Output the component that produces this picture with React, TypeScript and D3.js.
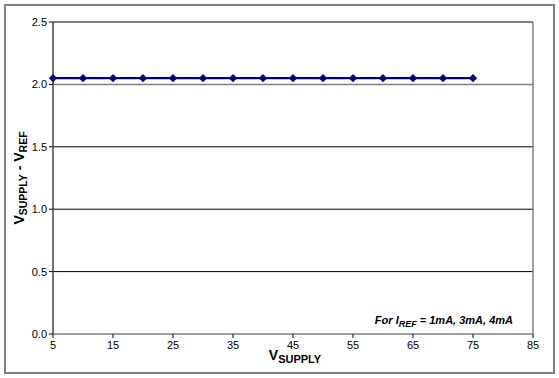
import React from "react";
import * as d3 from "d3";

const xValues = [5, 10, 15, 20, 25, 30, 35, 40, 45, 50, 55, 60, 65, 70, 75];
const yValues = [2.05, 2.05, 2.05, 2.05, 2.05, 2.05, 2.05, 2.05, 2.05, 2.05, 2.05, 2.05, 2.05, 2.05, 2.05];
const xTicks = [5, 15, 25, 35, 45, 55, 65, 75, 85];
const yTicks = [0, 0.5, 1.0, 1.5, 2.0, 2.5];

export default function App() {
  const W = 559, H = 378;
  const left = 53, right = 533, top = 22, bottom = 334;
  const x = d3.scaleLinear().domain([5, 85]).range([left, right]);
  const y = d3.scaleLinear().domain([0, 2.5]).range([bottom, top]);
  const line = d3.line<number>().x((_, i) => x(xValues[i])).y((d) => y(d));
  const font = "Liberation Sans, Arial, sans-serif";
  const diamond = "M0,-4.2L4.2,0L0,4.2L-4.2,0Z";
  return (
    <svg width={W} height={H} style={{ position: "absolute", left: 0, top: 0 }} fontFamily={font}>
      <rect x={0} y={0} width={W} height={H} fill="#fff" />
      <rect x={5} y={5} width={549} height={368} fill="none" stroke="#808080" strokeWidth={2} />
      {yTicks.map((t) => (
        <g key={t}>
          {t > 0 && (
            <line x1={left} x2={right} y1={y(t)} y2={y(t)} stroke={t === 2.0 ? "#808080" : "#000"} strokeWidth={t === 2.0 ? 1.5 : 1} />
          )}
          <line x1={left - 4} x2={left} y1={y(t)} y2={y(t)} stroke="#000" />
          <text x={left - 6} y={y(t) + 4} textAnchor="end" fontSize={11} fill="#000">{t.toFixed(1)}</text>
        </g>
      ))}
      <line x1={right} x2={right} y1={top} y2={bottom} stroke="#808080" strokeWidth={1.5} />
      <line x1={left} x2={left} y1={top} y2={bottom + 0.5} stroke="#404040" strokeWidth={1.5} />
      <line x1={left} x2={right} y1={bottom} y2={bottom} stroke="#808080" strokeWidth={1.5} />
      {xTicks.map((t) => (
        <g key={t}>
          <line x1={x(t)} x2={x(t)} y1={bottom} y2={bottom + 4} stroke="#000" />
          <text x={x(t)} y={bottom + 15} textAnchor="middle" fontSize={11} fill="#000">{t}</text>
        </g>
      ))}
      <path d={line(yValues) || ""} fill="none" stroke="#000080" strokeWidth={2.2} />
      {yValues.map((v, i) => (
        <path key={i} d={diamond} transform={`translate(${x(xValues[i])},${y(v)})`} fill="#000080" />
      ))}
      <text x={295} y={360} textAnchor="middle" fontWeight="bold" fill="#000">
        <tspan fontSize={14}>V</tspan>
        <tspan fontSize={11} dy={3}>SUPPLY</tspan>
      </text>
      <text transform={`translate(24,${(top + bottom) / 2}) rotate(-90)`} textAnchor="middle" fontWeight="bold" fill="#000">
        <tspan fontSize={14}>V</tspan>
        <tspan fontSize={10.5} dy={3}>SUPPLY</tspan>
        <tspan fontSize={14} dy={-3}> - V</tspan>
        <tspan fontSize={10.5} dy={3}>REF</tspan>
      </text>
      <text x={513} y={324} textAnchor="end" fontWeight="bold" fontStyle="italic" fontSize={11} fill="#000">
        <tspan>For I</tspan>
        <tspan fontSize={9} dy={3}>REF</tspan>
        <tspan dy={-3}> = 1mA, 3mA, 4mA</tspan>
      </text>
    </svg>
  );
}
